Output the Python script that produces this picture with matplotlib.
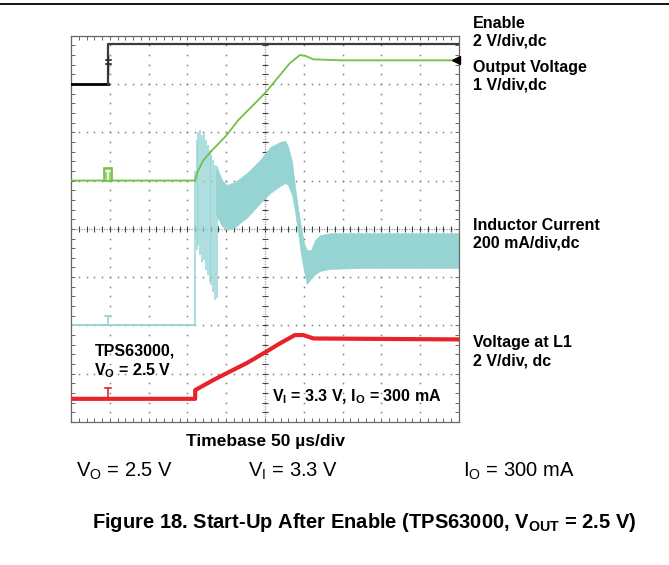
import numpy as np
import matplotlib
matplotlib.use('Agg')
import matplotlib.pyplot as plt
from matplotlib.lines import Line2D
from matplotlib.patches import Rectangle

plt.rcParams['font.family'] = ['Liberation Sans', 'DejaVu Sans']
plt.rcParams['mathtext.fontset'] = 'custom'
plt.rcParams['mathtext.rm'] = 'Liberation Sans'
plt.rcParams['mathtext.bf'] = 'Liberation Sans:bold'

enable_x = [0, 0.96, 0.96, 10]
enable_y = [7.0, 7.0, 7.83, 7.83]

vout_x = [0, 3.2, 3.26, 3.41, 3.63, 4.01, 4.31, 5.0, 5.64, 5.90, 6.05, 6.25, 7.0, 10]
vout_y = [5.0, 5.0, 5.18, 5.42, 5.62, 5.94, 6.25, 6.81, 7.43, 7.60, 7.58, 7.51, 7.49, 7.49]

# inductor current: flat part, the first burst of spikes, then the ripple band
il_x = [0, 3.2]
il_y = [2.0, 2.0]
spike_x = [3.20, 3.24, 3.28, 3.32, 3.37, 3.42, 3.47, 3.52, 3.57, 3.62, 3.67, 3.72, 3.77]
spike_top = [5.20, 5.84, 6.00, 6.05, 5.94, 5.98, 5.84, 5.73, 5.63, 5.53, 5.42, 5.32, 5.22]
spike_bot = [2.00, 3.56, 3.66, 3.46, 3.31, 3.35, 3.15, 3.04, 2.90, 2.84, 2.69, 2.53, 2.57]
band_x = [3.74, 3.89, 4.02, 4.23, 4.54, 4.87, 5.13, 5.39, 5.52, 5.59, 5.70, 5.77,
          5.85, 5.93, 6.01, 6.08, 6.19, 6.29, 6.42, 6.68, 7.45, 10.0]
band_high = [5.32, 5.01, 4.91, 4.97, 5.16, 5.42, 5.69, 5.80, 5.82, 5.71, 5.38, 4.89,
             4.43, 4.02, 3.69, 3.56, 3.56, 3.77, 3.87, 3.91, 3.91, 3.91]
band_low = [4.29, 4.06, 3.98, 4.04, 4.24, 4.53, 4.74, 4.89, 4.95, 4.91, 4.70, 4.39,
            3.93, 3.46, 3.11, 2.86, 2.98, 3.06, 3.13, 3.17, 3.19, 3.19]

vl1_x = [0, 3.2, 3.2, 3.67, 4.01, 4.53, 5.04, 5.39, 5.77, 5.99, 6.25, 10]
vl1_y = [0.48, 0.48, 0.66, 0.87, 1.01, 1.22, 1.46, 1.63, 1.80, 1.80, 1.73, 1.71]

GREEN = '#74bf45'
CYAN = '#96d4d4'
RED = '#e8242a'

W, H = 669, 565


def fxy(px, py):
    return px / W, 1 - py / H


fig = plt.figure(figsize=(6.69, 5.65), dpi=100)
ax = fig.add_axes([71 / W, 1 - 422 / H, 388 / W, 386.3 / H])
ax.set_xlim(0, 10)
ax.set_ylim(0, 8)

# graticule
ax.set_xticks(range(11))
ax.set_xticks(np.arange(0, 10.01, 0.2), minor=True)
ax.set_yticks(range(9))
ax.set_yticks(np.arange(0, 8.01, 0.2), minor=True)
ax.tick_params(which='both', direction='in', top=True, right=True, length=3,
               width=0.7, color='#666666', labelbottom=False, labelleft=False)
for s in ax.spines.values():
    s.set_color('#666666')
    s.set_linewidth(0.9)

for gx in range(1, 10):
    if gx != 5:
        ax.plot([gx] * 41, np.arange(0, 8.01, 0.2), ls='none', marker='s', ms=1.1,
                mew=0, color='#808080', zorder=1)
for gy in range(1, 8):
    if gy != 4:
        ax.plot(np.arange(0, 10.01, 0.2), [gy] * 51, ls='none', marker='s', ms=1.1,
                mew=0, color='#808080', zorder=1)
ax.axvline(5, color='#9a9a9a', lw=0.9, ls=(0, (1, 1)), zorder=1)
ax.axhline(4, color='#9a9a9a', lw=0.9, ls=(0, (1, 1)), zorder=1)
ax.plot(np.arange(0, 10.01, 0.2), [4] * 51, ls='none', marker='|', ms=5, mew=0.8,
        color='#444444', zorder=1)
ax.plot([5] * 41, np.arange(0, 8.01, 0.2), ls='none', marker='_', ms=5, mew=0.8,
        color='#444444', zorder=1)

# traces
ax.plot(enable_x[:2], enable_y[:2], color='black', lw=2.0, zorder=3)
ax.plot(enable_x[1:], enable_y[1:], color='#3c3c3c', lw=1.6, zorder=3)
ax.vlines(spike_x, spike_bot, spike_top, color=CYAN, lw=1.1, zorder=2)
ax.plot(il_x, il_y, color=CYAN, lw=1.4, zorder=2)
ax.fill_between(band_x, band_low, band_high, color=CYAN, lw=0.5, edgecolor=CYAN, zorder=2)
ax.plot(vout_x, vout_y, color=GREEN, lw=1.3, zorder=4)
ax.plot(vl1_x, vl1_y, color=RED, lw=3.0, zorder=4, solid_joinstyle='round')

# channel ground markers
ax.plot([0.96, 0.96], [7.2, 7.58], color='#2a2a2a', lw=1.0, zorder=5)
ax.plot([0.89, 1.03], [7.50, 7.50], color='#2a2a2a', lw=1.2, zorder=5)
ax.plot([0.89, 1.03], [7.42, 7.42], color='#2a2a2a', lw=1.2, zorder=5)
ax.add_patch(Rectangle((0.86, 5.0), 0.2, 0.26, facecolor='#9fd27a', edgecolor=GREEN,
                       lw=1.2, zorder=5))
ax.plot([0.91, 1.01], [5.2, 5.2], color='white', lw=1.1, zorder=6)
ax.plot([0.96, 0.96], [5.03, 5.2], color='white', lw=1.1, zorder=6)
ax.plot([0.88, 1.04], [2.2, 2.2], color=CYAN, lw=1.2, zorder=5)
ax.plot([0.96, 0.96], [2.0, 2.2], color=CYAN, lw=1.2, zorder=5)
ax.plot([0.88, 1.04], [0.7, 0.7], color=RED, lw=1.2, zorder=5)
ax.plot([0.96, 0.96], [0.48, 0.7], color=RED, lw=1.2, zorder=5)
ax.plot([9.93], [7.49], marker='<', ms=6, color='black', clip_on=False, zorder=6)

# text inside the screen
ax.text(*ax.transAxes.inverted().transform(fig.transFigure.transform(fxy(95, 355))),
        'TPS63000,', transform=ax.transAxes, fontsize=11.5, fontweight='bold', va='baseline')
ax.text(*ax.transAxes.inverted().transform(fig.transFigure.transform(fxy(94, 375))),
        r'V$_{\mathbf{O}}$ = 2.5 V', transform=ax.transAxes, fontsize=11.5,
        fontweight='bold', va='baseline')
ax.text(*ax.transAxes.inverted().transform(fig.transFigure.transform(fxy(272, 401))),
        r'V$_{\mathbf{I}}$ = 3.3 V, I$_{\mathbf{O}}$ = 300 mA', transform=ax.transAxes,
        fontsize=11.5, fontweight='bold', va='baseline')

# channel labels on the right
labels = [('Enable', 28), ('2 V/div,dc', 46), ('Output Voltage', 72), ('1 V/div,dc', 90),
          ('Inductor Current', 230), ('200 mA/div,dc', 248),
          ('Voltage at L1', 347), ('2 V/div, dc', 365)]
for txt, base in labels:
    fig.text(*fxy(473, base), txt, fontsize=11.5, fontweight='bold', va='baseline')

fig.text(*fxy(265, 446), 'Timebase 50 \u00b5s/div', fontsize=12.5, fontweight='bold',
         ha='center', va='baseline')
fig.text(*fxy(76, 477), r'V$_\mathrm{O}$ = 2.5 V', fontsize=14.5, va='baseline')
fig.text(*fxy(248, 477), r'V$_\mathrm{I}$ = 3.3 V', fontsize=14.5, va='baseline')
fig.text(*fxy(463, 477), r'I$_\mathrm{O}$ = 300 mA', fontsize=14.5, va='baseline')
fig.text(*fxy(364, 528), r'Figure 18. Start-Up After Enable (TPS63000, V$_{\mathbf{OUT}}$ = 2.5 V)',
         fontsize=14.5, fontweight='bold', ha='center', va='baseline')

fig.add_artist(Line2D([0, 1], [1 - 4 / H, 1 - 4 / H], color='black', lw=1.3))

fig.savefig('out.png', dpi=100)
